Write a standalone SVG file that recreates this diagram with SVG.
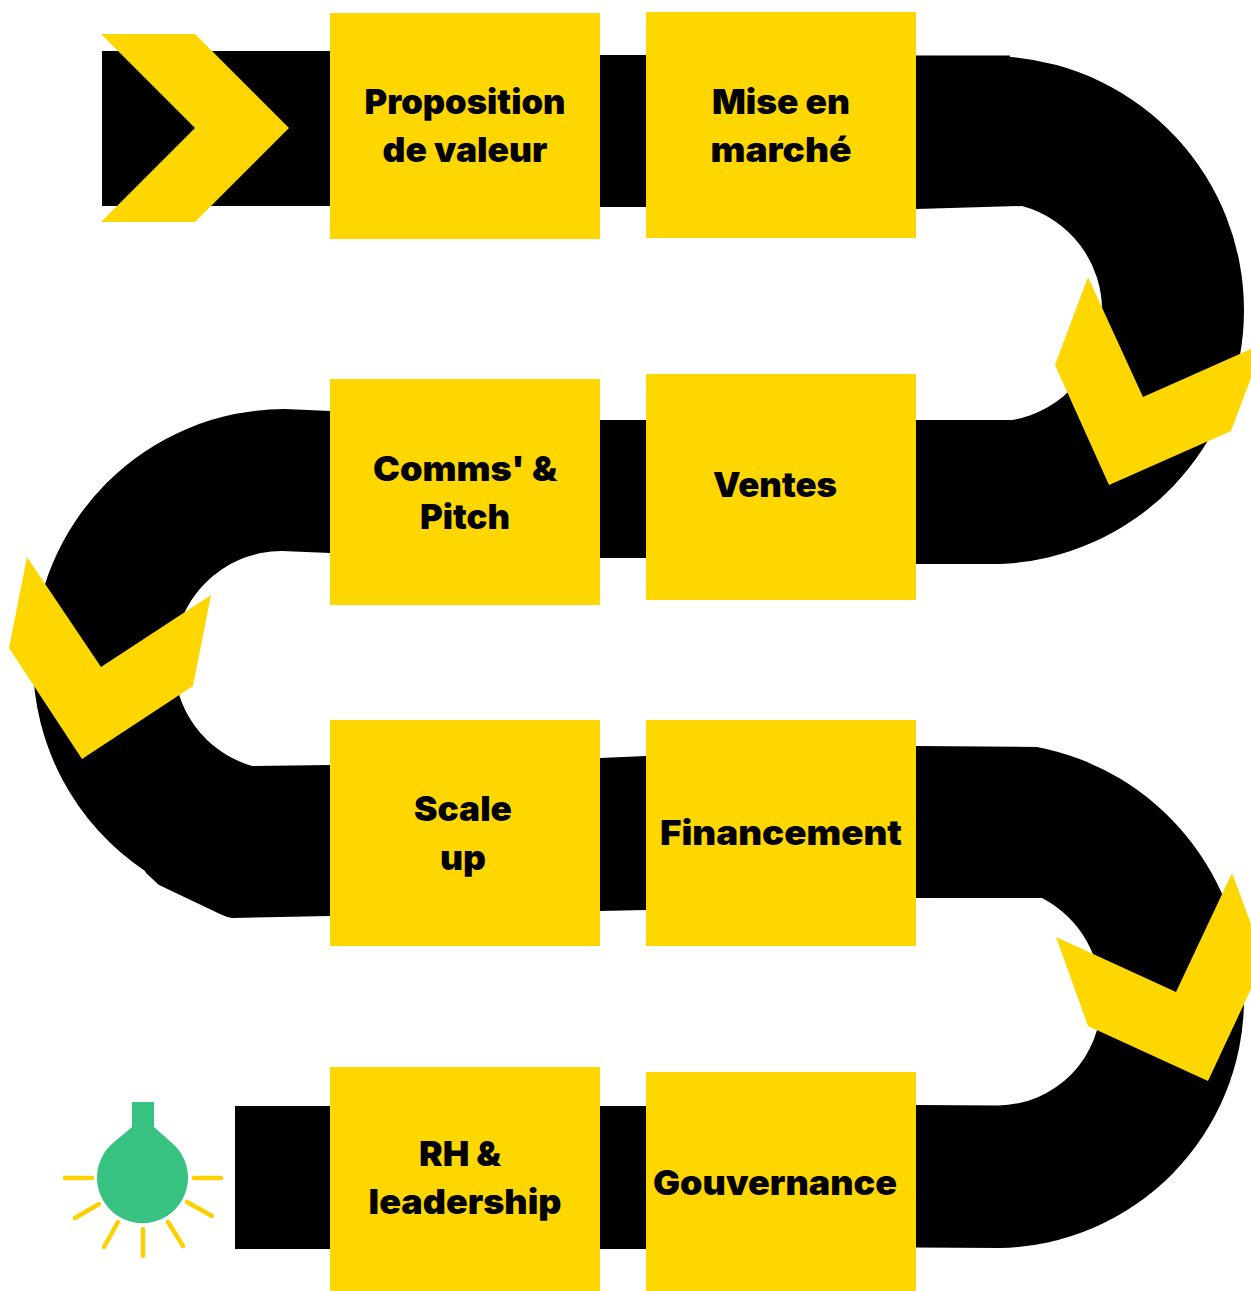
<svg xmlns="http://www.w3.org/2000/svg" width="1251" height="1291" viewBox="0 0 1251 1291">
<style>
.b{fill:#000}.y{fill:#ffd700}
.t{font-family:"Inter","Liberation Sans",sans-serif;font-weight:900;font-size:34px;fill:#000;text-anchor:middle}
.r{stroke:#ffd000;stroke-width:4.500;stroke-linecap:round;fill:none}
</style>
<rect width="1251" height="1291" fill="#fff"/>
<g id="connectors">
<path class="b" d="M102 51H330V206H102Z"/>
<path class="b" d="M600 55H646V207H600Z"/>
<path class="b" d="M916 55.500H1010V57A254 254 0 0 1 1244 310A254 254 0 0 1 1000 564H916V420H1012A108 108 0 0 0 1102 313A108 108 0 0 0 1022 206L916 209Z"/>
<path class="b" d="M600 420H646V558H600Z"/>
<path class="b" d="M330 411L285 409A252 252 0 0 0 33 661A252 252 0 0 0 145 871L146 873L159 885L220 914Q226 917 232 918L330 916V765L252 766A108 108 0 0 1 174 660A108 108 0 0 1 282 551L330 553Z"/>
<path class="b" d="M600 758L646 756V910L600 911Z"/>
<path class="b" d="M916 746L1037 747A255 255 0 0 1 1244 1000A249 249 0 0 1 1000 1248L916 1247.500V1105L998 1105.500A104 104 0 0 0 1101 1000A110 110 0 0 0 1042 898H916Z"/>
<path class="b" d="M600 1106H646V1249H600Z"/>
<path class="b" d="M235 1106H330V1249H235Z"/>
</g>
<g id="chevrons">
<path class="y" d="M101 34H195L289 128L195 222H101L195 128Z"/>
<path class="y" d="M1088 277L1143 397L1251 349V378L1231 431L1109 485L1055 365Z"/>
<path class="y" d="M27 557L101 667L211 595L193 686L82 759L9 648Z"/>
<path class="y" d="M1056 937L1176 992L1232 873L1251 924V989L1208 1081L1088 1026Z"/>
</g>
<g id="node-proposition"><rect class="y" x="330" y="13" width="270" height="226"/><text class="t" x="465" y="114" textLength="201" lengthAdjust="spacingAndGlyphs">Proposition</text><text class="t" x="465" y="162" textLength="165" lengthAdjust="spacingAndGlyphs">de valeur</text></g>
<g id="node-mise"><rect class="y" x="646" y="12" width="270" height="226"/><text class="t" x="781" y="114" textLength="138" lengthAdjust="spacingAndGlyphs">Mise en</text><text class="t" x="781" y="162" textLength="141" lengthAdjust="spacingAndGlyphs">marché</text></g>
<g id="node-comms"><rect class="y" x="330" y="379" width="270" height="226"/><text class="t" x="465" y="481" textLength="184" lengthAdjust="spacingAndGlyphs">Comms' &amp;</text><text class="t" x="465" y="529" textLength="90" lengthAdjust="spacingAndGlyphs">Pitch</text></g>
<g id="node-ventes"><rect class="y" x="646" y="374" width="270" height="226"/><text class="t" x="775" y="497" textLength="124" lengthAdjust="spacingAndGlyphs">Ventes</text></g>
<g id="node-scale"><rect class="y" x="330" y="720" width="270" height="226"/><text class="t" x="463" y="821" textLength="98" lengthAdjust="spacingAndGlyphs">Scale</text><text class="t" x="463" y="870" textLength="46" lengthAdjust="spacingAndGlyphs">up</text></g>
<g id="node-financement"><rect class="y" x="646" y="720" width="270" height="226"/><text class="t" x="781" y="845" textLength="242" lengthAdjust="spacingAndGlyphs">Financement</text></g>
<g id="node-rh"><rect class="y" x="330" y="1067" width="270" height="224"/><text class="t" x="460" y="1166" textLength="82" lengthAdjust="spacingAndGlyphs">RH &amp;</text><text class="t" x="465" y="1214" textLength="193" lengthAdjust="spacingAndGlyphs">leadership</text></g>
<g id="node-gouvernance"><rect class="y" x="646" y="1072" width="270" height="219"/><text class="t" x="775" y="1195" textLength="244" lengthAdjust="spacingAndGlyphs">Gouvernance</text></g>
<g id="bulb">
<path fill="#37c282" d="M132 1102H154V1127L172 1143A45.500 45.500 0 1 1 113 1143L132 1127Z"/>
<path class="r" d="M65 1178H92M194 1178H221M75 1218L99 1204M187 1202L212 1216M104 1247L118 1222M168 1222L183 1246M143 1229V1256"/>
</g>
</svg>
